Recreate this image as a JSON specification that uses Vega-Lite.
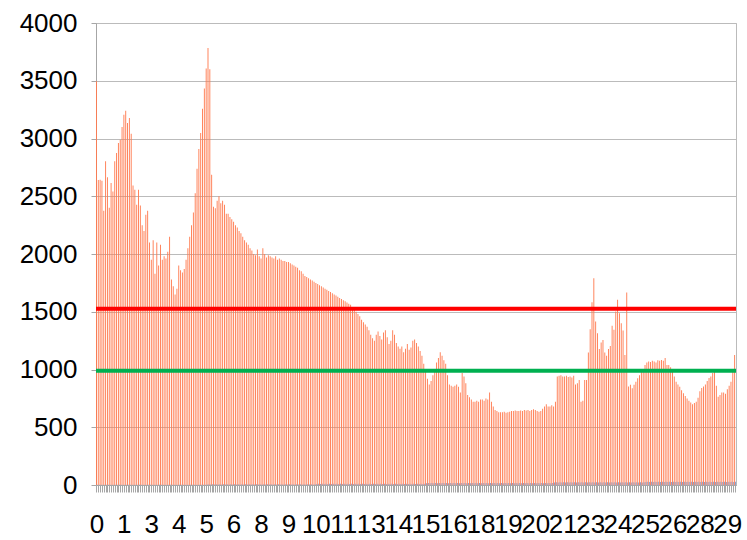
{
"$schema": "https://vega.github.io/schema/vega-lite/v6.json",
"width": 640, "height": 462,
"autosize": "none",
"padding": {"left": 96, "top": 23, "right": 11, "bottom": 55},
"background": "white",
"config": {"view": {"stroke": "#bbbbbb"}, "font": "Liberation Sans"},
"datasets": {
"bars": [
{"h":0,"a":3495,"b":2},{"h":2,"a":2640,"b":2},{"h":4,"a":2643,"b":3},{"h":6,"a":2635,"b":2},{"h":8,"a":2374,"b":2},{"h":10,"a":2802,"b":3},{"h":12,"a":2665,"b":2},{"h":14,"a":2400,"b":2},{"h":16,"a":2615,"b":3},{"h":18,"a":2542,"b":2},
{"h":20,"a":2802,"b":2},{"h":22,"a":2874,"b":3},{"h":24,"a":2960,"b":2},{"h":26,"a":2990,"b":2},{"h":28,"a":3100,"b":3},{"h":30,"a":3206,"b":2},{"h":32,"a":3241,"b":2},{"h":34,"a":3134,"b":3},{"h":36,"a":3177,"b":2},{"h":38,"a":3041,"b":2},
{"h":40,"a":2594,"b":3},{"h":42,"a":2556,"b":2},{"h":44,"a":2426,"b":2},{"h":46,"a":2556,"b":3},{"h":48,"a":2420,"b":2},{"h":50,"a":2250,"b":2},{"h":52,"a":2200,"b":3},{"h":54,"a":2340,"b":2},{"h":56,"a":2374,"b":2},{"h":58,"a":2100,"b":3},
{"h":60,"a":1950,"b":2},{"h":62,"a":2120,"b":2},{"h":64,"a":1830,"b":3},{"h":66,"a":2100,"b":2},{"h":68,"a":1900,"b":2},{"h":70,"a":2080,"b":3},{"h":72,"a":1950,"b":2},{"h":74,"a":1980,"b":2},{"h":76,"a":1960,"b":3},{"h":78,"a":2020,"b":2},
{"h":80,"a":2150,"b":2},{"h":82,"a":1780,"b":3},{"h":84,"a":1720,"b":2},{"h":86,"a":1650,"b":2},{"h":88,"a":1700,"b":3},{"h":90,"a":1900,"b":2},{"h":92,"a":1860,"b":2},{"h":94,"a":1840,"b":3},{"h":96,"a":1870,"b":2},{"h":98,"a":1950,"b":2},
{"h":100,"a":2050,"b":3},{"h":102,"a":2150,"b":2},{"h":104,"a":2250,"b":2},{"h":106,"a":2360,"b":3},{"h":108,"a":2527,"b":2},{"h":110,"a":2738,"b":2},{"h":112,"a":2909,"b":3},{"h":114,"a":3048,"b":2},{"h":116,"a":3258,"b":2},{"h":118,"a":3432,"b":3},
{"h":120,"a":3605,"b":5},{"h":122,"a":3784,"b":6},{"h":124,"a":3600,"b":5},{"h":126,"a":2686,"b":6},{"h":128,"a":2410,"b":5},{"h":130,"a":2397,"b":6},{"h":132,"a":2460,"b":5},{"h":134,"a":2500,"b":6},{"h":136,"a":2440,"b":5},{"h":138,"a":2460,"b":6},
{"h":140,"a":2426,"b":5},{"h":142,"a":2348,"b":6},{"h":144,"a":2348,"b":5},{"h":146,"a":2320,"b":6},{"h":148,"a":2300,"b":5},{"h":150,"a":2280,"b":6},{"h":152,"a":2250,"b":5},{"h":154,"a":2230,"b":6},{"h":156,"a":2200,"b":5},{"h":158,"a":2180,"b":6},
{"h":160,"a":2150,"b":5},{"h":162,"a":2120,"b":6},{"h":164,"a":2100,"b":5},{"h":166,"a":2080,"b":6},{"h":168,"a":2050,"b":5},{"h":170,"a":2030,"b":6},{"h":172,"a":2000,"b":5},{"h":174,"a":1990,"b":6},{"h":176,"a":2040,"b":5},{"h":178,"a":1980,"b":6},
{"h":180,"a":1960,"b":5},{"h":182,"a":2050,"b":6},{"h":184,"a":2000,"b":5},{"h":186,"a":1970,"b":6},{"h":188,"a":1990,"b":5},{"h":190,"a":1980,"b":6},{"h":192,"a":1970,"b":5},{"h":194,"a":1960,"b":6},{"h":196,"a":1980,"b":5},{"h":198,"a":1950,"b":6},
{"h":200,"a":1960,"b":5},{"h":202,"a":1950,"b":6},{"h":204,"a":1940,"b":5},{"h":206,"a":1940,"b":6},{"h":208,"a":1930,"b":5},{"h":210,"a":1930,"b":6},{"h":212,"a":1920,"b":5},{"h":214,"a":1910,"b":6},{"h":216,"a":1900,"b":5},{"h":218,"a":1890,"b":6},
{"h":220,"a":1880,"b":5},{"h":222,"a":1860,"b":6},{"h":224,"a":1850,"b":5},{"h":226,"a":1830,"b":6},{"h":228,"a":1810,"b":5},{"h":230,"a":1800,"b":6},{"h":232,"a":1790,"b":5},{"h":234,"a":1780,"b":6},{"h":236,"a":1770,"b":5},{"h":238,"a":1760,"b":6},
{"h":240,"a":1750,"b":9},{"h":242,"a":1740,"b":10},{"h":244,"a":1730,"b":9},{"h":246,"a":1720,"b":10},{"h":248,"a":1710,"b":9},{"h":250,"a":1700,"b":10},{"h":252,"a":1690,"b":9},{"h":254,"a":1680,"b":10},{"h":256,"a":1670,"b":9},{"h":258,"a":1660,"b":10},
{"h":260,"a":1650,"b":9},{"h":262,"a":1640,"b":10},{"h":264,"a":1630,"b":9},{"h":266,"a":1620,"b":10},{"h":268,"a":1610,"b":9},{"h":270,"a":1600,"b":10},{"h":272,"a":1590,"b":9},{"h":274,"a":1580,"b":10},{"h":276,"a":1570,"b":9},{"h":278,"a":1560,"b":10},
{"h":280,"a":1540,"b":9},{"h":282,"a":1520,"b":10},{"h":284,"a":1500,"b":9},{"h":286,"a":1480,"b":10},{"h":288,"a":1460,"b":9},{"h":290,"a":1430,"b":10},{"h":292,"a":1410,"b":9},{"h":294,"a":1390,"b":10},{"h":296,"a":1370,"b":9},{"h":298,"a":1340,"b":10},
{"h":300,"a":1300,"b":9},{"h":302,"a":1270,"b":10},{"h":304,"a":1250,"b":9},{"h":306,"a":1300,"b":10},{"h":308,"a":1330,"b":9},{"h":310,"a":1290,"b":10},{"h":312,"a":1260,"b":9},{"h":314,"a":1320,"b":10},{"h":316,"a":1340,"b":9},{"h":318,"a":1280,"b":10},
{"h":320,"a":1220,"b":9},{"h":322,"a":1250,"b":10},{"h":324,"a":1340,"b":9},{"h":326,"a":1300,"b":10},{"h":328,"a":1230,"b":9},{"h":330,"a":1200,"b":10},{"h":332,"a":1180,"b":9},{"h":334,"a":1200,"b":10},{"h":336,"a":1150,"b":9},{"h":338,"a":1180,"b":10},
{"h":340,"a":1220,"b":9},{"h":342,"a":1170,"b":10},{"h":344,"a":1190,"b":9},{"h":346,"a":1250,"b":10},{"h":348,"a":1260,"b":9},{"h":350,"a":1230,"b":10},{"h":352,"a":1200,"b":9},{"h":354,"a":1160,"b":10},{"h":356,"a":1120,"b":9},{"h":358,"a":1050,"b":10},
{"h":360,"a":980,"b":16},{"h":362,"a":920,"b":18},{"h":364,"a":870,"b":16},{"h":366,"a":900,"b":18},{"h":368,"a":950,"b":16},{"h":370,"a":1000,"b":18},{"h":372,"a":1060,"b":16},{"h":374,"a":1100,"b":18},{"h":376,"a":1150,"b":16},{"h":378,"a":1120,"b":18},
{"h":380,"a":1080,"b":16},{"h":382,"a":1050,"b":18},{"h":384,"a":950,"b":16},{"h":386,"a":870,"b":18},{"h":388,"a":860,"b":16},{"h":390,"a":850,"b":18},{"h":392,"a":860,"b":16},{"h":394,"a":870,"b":18},{"h":396,"a":850,"b":16},{"h":398,"a":800,"b":18},
{"h":400,"a":970,"b":16},{"h":402,"a":940,"b":18},{"h":404,"a":880,"b":16},{"h":406,"a":780,"b":18},{"h":408,"a":760,"b":16},{"h":410,"a":740,"b":18},{"h":412,"a":720,"b":16},{"h":414,"a":720,"b":18},{"h":416,"a":730,"b":16},{"h":418,"a":720,"b":18},
{"h":420,"a":740,"b":16},{"h":422,"a":740,"b":18},{"h":424,"a":730,"b":16},{"h":426,"a":750,"b":18},{"h":428,"a":740,"b":16},{"h":430,"a":800,"b":18},{"h":432,"a":720,"b":16},{"h":434,"a":680,"b":18},{"h":436,"a":650,"b":16},{"h":438,"a":640,"b":18},
{"h":440,"a":630,"b":16},{"h":442,"a":630,"b":18},{"h":444,"a":630,"b":16},{"h":446,"a":635,"b":18},{"h":448,"a":625,"b":16},{"h":450,"a":630,"b":18},{"h":452,"a":635,"b":16},{"h":454,"a":640,"b":18},{"h":456,"a":640,"b":16},{"h":458,"a":645,"b":18},
{"h":460,"a":640,"b":16},{"h":462,"a":640,"b":18},{"h":464,"a":645,"b":16},{"h":466,"a":640,"b":18},{"h":468,"a":650,"b":16},{"h":470,"a":645,"b":18},{"h":472,"a":650,"b":16},{"h":474,"a":640,"b":18},{"h":476,"a":650,"b":16},{"h":478,"a":655,"b":18},
{"h":480,"a":650,"b":16},{"h":482,"a":640,"b":18},{"h":484,"a":635,"b":16},{"h":486,"a":640,"b":18},{"h":488,"a":660,"b":16},{"h":490,"a":680,"b":18},{"h":492,"a":700,"b":16},{"h":494,"a":680,"b":18},{"h":496,"a":680,"b":16},{"h":498,"a":690,"b":18},
{"h":500,"a":680,"b":22},{"h":502,"a":720,"b":24},{"h":504,"a":940,"b":22},{"h":506,"a":945,"b":24},{"h":508,"a":950,"b":22},{"h":510,"a":940,"b":24},{"h":512,"a":940,"b":22},{"h":514,"a":945,"b":24},{"h":516,"a":935,"b":22},{"h":518,"a":940,"b":24},
{"h":520,"a":930,"b":22},{"h":522,"a":945,"b":24},{"h":524,"a":870,"b":22},{"h":526,"a":880,"b":24},{"h":528,"a":910,"b":22},{"h":530,"a":720,"b":24},{"h":532,"a":730,"b":22},{"h":534,"a":910,"b":24},{"h":536,"a":910,"b":22},{"h":538,"a":1147,"b":24},
{"h":540,"a":1349,"b":22},{"h":542,"a":1583,"b":24},{"h":544,"a":1791,"b":22},{"h":546,"a":1415,"b":24},{"h":548,"a":1314,"b":22},{"h":550,"a":1178,"b":24},{"h":552,"a":1233,"b":22},{"h":554,"a":1256,"b":24},{"h":556,"a":1147,"b":22},{"h":558,"a":1118,"b":24},
{"h":560,"a":1178,"b":22},{"h":562,"a":1204,"b":24},{"h":564,"a":1378,"b":22},{"h":566,"a":1344,"b":24},{"h":568,"a":1502,"b":22},{"h":570,"a":1603,"b":24},{"h":572,"a":1488,"b":22},{"h":574,"a":1401,"b":24},{"h":576,"a":1338,"b":22},{"h":578,"a":1126,"b":24},
{"h":580,"a":1667,"b":22},{"h":582,"a":852,"b":24},{"h":584,"a":867,"b":22},{"h":586,"a":838,"b":24},{"h":588,"a":867,"b":22},{"h":590,"a":895,"b":24},{"h":592,"a":924,"b":22},{"h":594,"a":950,"b":24},{"h":596,"a":980,"b":22},{"h":598,"a":1000,"b":24},
{"h":600,"a":1040,"b":27},{"h":602,"a":1060,"b":29},{"h":604,"a":1070,"b":27},{"h":606,"a":1065,"b":29},{"h":608,"a":1075,"b":27},{"h":610,"a":1070,"b":29},{"h":612,"a":1060,"b":27},{"h":614,"a":1080,"b":29},{"h":616,"a":1075,"b":27},{"h":618,"a":1083,"b":29},
{"h":620,"a":1075,"b":27},{"h":622,"a":1100,"b":29},{"h":624,"a":1040,"b":27},{"h":626,"a":1040,"b":29},{"h":628,"a":1020,"b":27},{"h":630,"a":982,"b":29},{"h":632,"a":939,"b":27},{"h":634,"a":895,"b":29},{"h":636,"a":870,"b":27},{"h":638,"a":850,"b":29},
{"h":640,"a":820,"b":27},{"h":642,"a":795,"b":29},{"h":644,"a":770,"b":27},{"h":646,"a":750,"b":29},{"h":648,"a":730,"b":27},{"h":650,"a":715,"b":29},{"h":652,"a":700,"b":27},{"h":654,"a":710,"b":29},{"h":656,"a":720,"b":27},{"h":658,"a":755,"b":29},
{"h":660,"a":812,"b":27},{"h":662,"a":840,"b":29},{"h":664,"a":852,"b":27},{"h":666,"a":870,"b":29},{"h":668,"a":900,"b":27},{"h":670,"a":927,"b":29},{"h":672,"a":940,"b":27},{"h":674,"a":970,"b":29},{"h":676,"a":985,"b":27},{"h":678,"a":860,"b":29},
{"h":680,"a":765,"b":27},{"h":682,"a":780,"b":29},{"h":684,"a":800,"b":27},{"h":686,"a":800,"b":29},{"h":688,"a":790,"b":27},{"h":690,"a":830,"b":29},{"h":692,"a":860,"b":27},{"h":694,"a":895,"b":29},{"h":696,"a":985,"b":27},{"h":698,"a":1126,"b":29}
],
"refs": [{"name": "upper", "value": 1525}, {"name": "lower", "value": 990}]
},
"layer": [
{
"data": {"name": "bars"},
"transform": [{"fold": ["a", "b"], "as": ["series", "val"]}],
"mark": {"type": "bar"},
"encoding": {
"x": {"field": "h", "type": "ordinal", "scale": {"paddingInner": 0, "paddingOuter": 0},
"axis": {"title": null, "labelExpr": "datum.value % 30 === 0 ? format(round(datum.value / 24), 'd') : ''",
"labelOverlap": false, "labelBound": false, "labelFlush": false, "labelAngle": 0,
"labelFontSize": 26, "labelColor": "#000000", "labelPadding": 19,
"tickSize": 7, "tickColor": "#a6a6a6", "domainColor": "#a6a6a6", "grid": false, "zindex": 1}},
"xOffset": {"field": "series", "scale": {"paddingInner": 0}},
"y": {"field": "val", "type": "quantitative", "scale": {"domain": [0, 4000]},
"axis": {"title": null, "values": [0, 500, 1000, 1500, 2000, 2500, 3000, 3500, 4000], "format": "d",
"labelFontSize": 26, "labelColor": "#000000", "labelPadding": 14,
"tickSize": 5, "tickColor": "#a6a6a6", "domainColor": "#a6a6a6",
"grid": true, "gridColor": "#bbbbbb", "zindex": 0}},
"color": {"field": "series", "scale": {"domain": ["a", "b"], "range": ["#ff7a4f", "#7f9ccf"]}, "legend": null}
}
},
{
"data": {"name": "refs"},
"mark": {"type": "rule", "strokeWidth": 4},
"encoding": {
"y": {"field": "value", "type": "quantitative"},
"color": {"field": "name", "scale": {"domain": ["upper", "lower"], "range": ["#ff0000", "#00b050"]}, "legend": null}
}
}
],
"resolve": {"scale": {"color": "independent"}}
}
